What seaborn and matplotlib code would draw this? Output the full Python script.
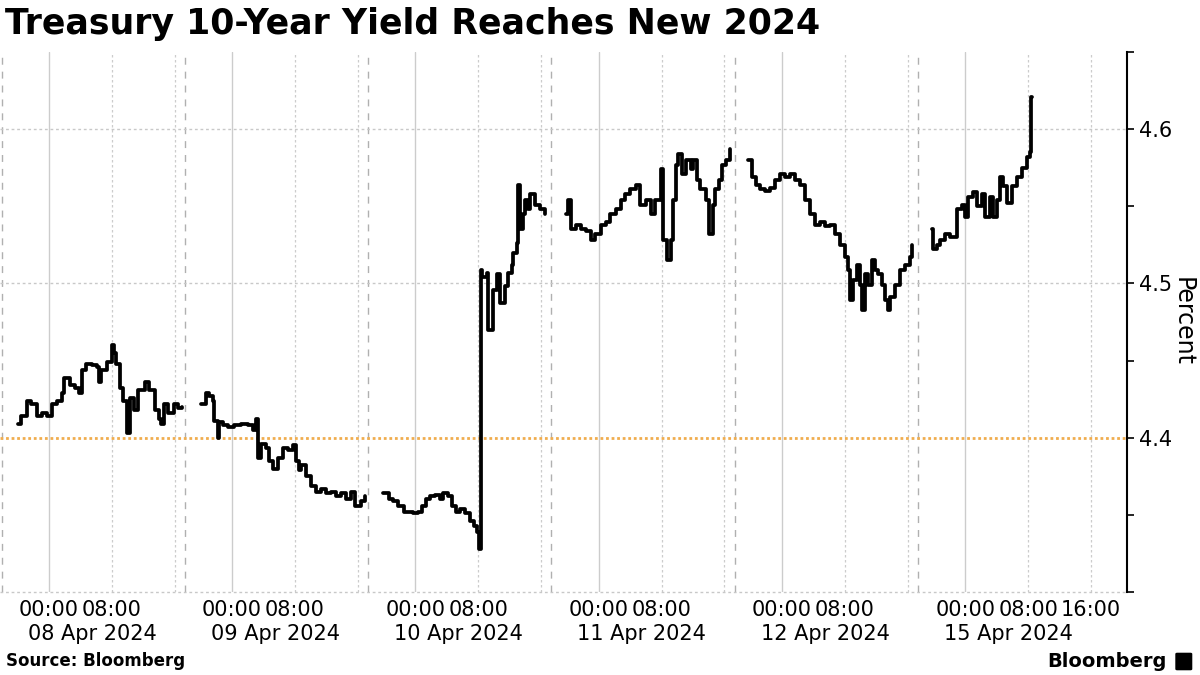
import matplotlib
matplotlib.use('Agg')
import matplotlib.pyplot as plt
import matplotlib.patches as mpatches
import seaborn as sns
import pandas as pd

# Intraday yields, hours relative to 00:00 New York (negative = prior evening session)
days = ['08 Apr 2024', '09 Apr 2024', '10 Apr 2024', '11 Apr 2024', '12 Apr 2024', '15 Apr 2024']

apr08_hours = [-3.9, -3.5, -2.8, -2.2, -1.5, -0.9, -0.25, 0.4, 1.0, 1.65, 2.0, 2.7, 3.3, 3.8,
               4.2, 4.8, 5.5, 6.1, 6.35, 6.7, 7.4, 8.0, 8.3, 8.6, 9.0, 9.5, 9.9, 10.3, 10.9,
               11.4, 12.2, 12.8, 13.5, 14.0, 14.3, 14.7, 15.2, 15.9, 16.5, 16.9]
apr08_yield = [4.409, 4.414, 4.424, 4.422, 4.414, 4.416, 4.414, 4.422, 4.424, 4.429, 4.439,
               4.434, 4.432, 4.429, 4.444, 4.448, 4.447, 4.446, 4.436, 4.444, 4.449, 4.460,
               4.455, 4.448, 4.432, 4.424, 4.403, 4.426, 4.418, 4.431, 4.436, 4.431, 4.418,
               4.412, 4.409, 4.422, 4.416, 4.422, 4.419, 4.420]

apr09_hours = [-3.9, -3.3, -2.9, -2.4, -2.3, -1.8, -1.65, -1.1, -0.5, 0.25, 1.1, 2.0, 2.7,
               3.05, 3.3, 3.7, 4.3, 4.7, 5.2, 5.8, 6.5, 7.1, 7.7, 8.1, 8.5, 8.8, 9.4, 10.0,
               10.7, 11.3, 11.9, 12.6, 13.2, 13.8, 14.5, 15.1, 15.7, 16.4, 16.9]
apr09_yield = [4.422, 4.429, 4.427, 4.424, 4.411, 4.400, 4.410, 4.408, 4.407, 4.408, 4.409,
               4.408, 4.405, 4.412, 4.387, 4.396, 4.393, 4.385, 4.380, 4.387, 4.393, 4.392,
               4.395, 4.385, 4.379, 4.382, 4.375, 4.369, 4.365, 4.367, 4.364, 4.365, 4.362,
               4.364, 4.360, 4.365, 4.356, 4.359, 4.362]

apr10_hours = [-4.05, -3.4, -2.9, -2.15, -1.5, -0.9, -0.25, 0.4, 0.9, 1.3, 1.9, 2.5, 3.2,
               3.55, 4.2, 4.7, 5.2, 5.7, 6.35, 7.0, 7.5, 7.9, 8.1, 8.4, 8.5, 9.1, 9.3, 9.9,
               10.4, 10.8, 11.4, 11.8, 12.3, 12.4, 12.95, 13.1, 13.3, 13.7, 14.0, 14.35,
               14.6, 15.2, 15.9, 16.5]
apr10_yield = [4.364, 4.360, 4.359, 4.356, 4.352, 4.352, 4.351, 4.352, 4.356, 4.360, 4.362,
               4.363, 4.360, 4.364, 4.362, 4.356, 4.352, 4.354, 4.351, 4.346, 4.343, 4.339,
               4.328, 4.509, 4.504, 4.507, 4.470, 4.496, 4.506, 4.487, 4.498, 4.507, 4.512,
               4.520, 4.526, 4.564, 4.535, 4.545, 4.554, 4.548, 4.558, 4.551, 4.548, 4.545]

apr11_hours = [-4.2, -3.95, -3.55, -2.9, -2.3, -1.65, -1.0, -0.4, 0.25, 0.9, 1.5, 2.2, 2.8,
               3.4, 4.05, 4.7, 5.3, 6.0, 6.6, 7.2, 7.9, 8.25, 8.75, 9.15, 9.4, 9.8, 10.15,
               10.65, 11.05, 11.7, 12.05, 12.55, 12.95, 13.6, 14.0, 14.5, 14.85, 15.25,
               15.75, 16.25, 16.75]
apr11_yield = [4.545, 4.554, 4.535, 4.538, 4.535, 4.534, 4.528, 4.532, 4.538, 4.540, 4.545,
               4.548, 4.554, 4.558, 4.561, 4.564, 4.551, 4.554, 4.545, 4.554, 4.574, 4.528,
               4.515, 4.528, 4.554, 4.577, 4.584, 4.571, 4.580, 4.574, 4.580, 4.567, 4.561,
               4.554, 4.532, 4.551, 4.561, 4.567, 4.577, 4.580, 4.587]

apr12_hours = [-4.3, -3.8, -3.3, -2.8, -2.15, -1.5, -0.9, -0.25, 0.4, 1.0, 1.65, 2.3, 2.9,
               3.55, 4.2, 4.8, 5.45, 6.1, 6.7, 7.35, 8.0, 8.4, 8.6, 9.0, 9.5, 9.9, 10.15,
               10.55, 10.9, 11.45, 11.8, 12.2, 12.7, 13.1, 13.5, 13.7, 14.35, 15.0, 15.6,
               16.25, 16.6]
apr12_yield = [4.580, 4.569, 4.564, 4.561, 4.560, 4.562, 4.567, 4.571, 4.569, 4.571, 4.567,
               4.564, 4.554, 4.545, 4.538, 4.540, 4.537, 4.538, 4.532, 4.525, 4.517, 4.509,
               4.489, 4.502, 4.512, 4.499, 4.483, 4.506, 4.499, 4.515, 4.509, 4.506, 4.499,
               4.489, 4.483, 4.491, 4.499, 4.509, 4.512, 4.517, 4.525]

apr15_hours = [-4.2, -4.05, -3.55, -3.2, -2.55, -1.9, -1.0, -0.4, 0.0, 0.4, 1.0, 1.5, 2.15,
               2.55, 3.2, 3.55, 4.05, 4.45, 4.85, 5.35, 6.0, 6.6, 7.25, 7.9, 8.25, 8.4, 8.5]
apr15_yield = [4.535, 4.522, 4.525, 4.528, 4.532, 4.530, 4.548, 4.551, 4.543, 4.556, 4.559,
               4.550, 4.558, 4.543, 4.556, 4.543, 4.554, 4.569, 4.563, 4.552, 4.563, 4.569,
               4.575, 4.582, 4.585, 4.621, 4.621]

prior_high = 4.40

# layout of the compressed (trading-hours) axis
SESSION = 23.31   # hours per session incl. break
OFFSET = 6.0      # session opens 18:00 the evening before

all_hours = [apr08_hours, apr09_hours, apr10_hours, apr11_hours, apr12_hours, apr15_hours]
all_yield = [apr08_yield, apr09_yield, apr10_yield, apr11_yield, apr12_yield, apr15_yield]

frames = []
for i, (h, y) in enumerate(zip(all_hours, all_yield)):
    frames.append(pd.DataFrame({'x': [i * SESSION + OFFSET + t for t in h],
                                'yield': y, 'day': days[i]}))
df = pd.concat(frames, ignore_index=True)

sns.set_theme(style='white')
plt.rcParams['font.family'] = ['DejaVu Sans']
plt.rcParams['text.color'] = 'black'
plt.rcParams['xtick.color'] = 'black'
plt.rcParams['ytick.color'] = 'black'
plt.rcParams['axes.labelcolor'] = 'black'

fig = plt.figure(figsize=(12, 6.75), dpi=100)
ax = fig.add_axes([0.0, 0.123, 0.939, 0.8])

# vertical grid: session breaks, midnight, 08:00 and 16:00
for i in range(len(days)):
    start = i * SESSION
    ax.axvline(start, color='#b0b0b0', lw=1, ls=(0, (5, 5)), zorder=1)
    ax.axvline(start + OFFSET, color='#cccccc', lw=1, zorder=1)
    ax.axvline(start + OFFSET + 8, color='#cccccc', lw=0.9, ls=(0, (2, 2)), zorder=1)
    ax.axvline(start + OFFSET + 16, color='#cccccc', lw=0.9, ls=(0, (2, 2)), zorder=1)

for yv in [4.3, 4.5, 4.6]:
    ax.axhline(yv, color='#c8c8c8', lw=1, ls=(0, (2, 2)), zorder=1, clip_on=False)
ax.axhline(prior_high, color='#f0ad4e', lw=2, ls=(0, (1, 1)), zorder=2)

sns.lineplot(data=df, x='x', y='yield', units='day', estimator=None, color='black',
             lw=2.7, drawstyle='steps-post', ax=ax, zorder=3)

ax.set_xlim(-0.2, 143.1)
ax.set_ylim(4.30, 4.65)

# x ticks
ticks, labels = [], []
for i in range(len(days)):
    ticks += [i * SESSION + OFFSET, i * SESSION + OFFSET + 8]
    labels += ['00:00', '08:00']
ticks.append((len(days) - 1) * SESSION + OFFSET + 16)
labels.append('16:00')
ax.set_xticks(ticks)
ax.set_xticklabels(labels, fontsize=15)
ax.tick_params(axis='x', length=0, pad=6)
for i, d in enumerate(days):
    ax.text(i * SESSION + OFFSET + 5.5, -0.078, d, transform=ax.get_xaxis_transform(),
            ha='center', va='center', fontsize=15)

# y axis on the right
ax.yaxis.tick_right()
ax.yaxis.set_label_position('right')
ax.set_yticks([4.3, 4.4, 4.5, 4.6])
ax.set_yticklabels(['', '4.4', '4.5', '4.6'], fontsize=15)
ax.set_yticks([4.35, 4.45, 4.55, 4.65], minor=True)
ax.tick_params(axis='y', which='both', direction='out', length=5, width=1.2,
               color='black', right=True, pad=4)
ax.set_ylabel('Percent', fontsize=17, rotation=270, labelpad=16)
ax.set_xlabel('')

for side in ['top', 'left', 'bottom']:
    ax.spines[side].set_visible(False)
ax.spines['right'].set_color('black')
ax.spines['right'].set_linewidth(1.5)

fig.text(0.004, 0.965, 'Treasury 10-Year Yield Reaches New 2024', fontsize=25,
         fontweight='bold', ha='left', va='center')
fig.text(0.005, 0.02, 'Source: Bloomberg', fontsize=12, fontweight='bold',
         ha='left', va='center')
fig.text(0.972, 0.02, 'Bloomberg', fontsize=14, fontweight='bold', ha='right',
         va='center')
fig.add_artist(mpatches.FancyBboxPatch((0.981, 0.009), 0.011, 0.022,
                                       boxstyle='round,pad=0.001', color='black',
                                       transform=fig.transFigure))

fig.savefig('out.png', dpi=100)
